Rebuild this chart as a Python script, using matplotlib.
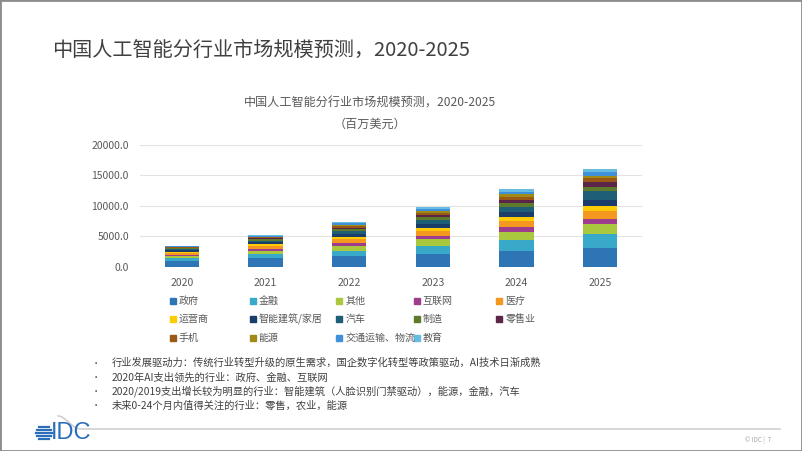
import matplotlib
matplotlib.use('Agg')
import matplotlib.pyplot as plt
import numpy as np
from matplotlib.patches import Rectangle
from matplotlib.lines import Line2D

plt.rcParams['font.family'] = ['Noto Sans CJK SC', 'DejaVu Sans']

# ---------------------------------------------------------------------------
# data (百万美元)
# ---------------------------------------------------------------------------
years = ['2020', '2021', '2022', '2023', '2024', '2025']

gov = [930, 1370, 1760, 2090, 2640, 3130]
finance = [440, 660, 880, 1370, 1760, 2200]
other = [380, 550, 770, 1040, 1370, 1700]
internet = [220, 330, 490, 600, 710, 880]
medical = [330, 490, 600, 770, 1100, 1320]
telecom = [170, 270, 380, 550, 660, 770]
building = [220, 330, 490, 600, 820, 1040]
auto = [220, 270, 440, 660, 820, 1320]
manufacturing = [110, 220, 330, 440, 660, 710]
retail = [110, 170, 270, 380, 440, 770]
phone = [110, 170, 270, 380, 550, 660]
energy = [60, 110, 220, 330, 440, 440]
transport = [60, 110, 220, 270, 380, 550]
education = [90, 110, 170, 330, 380, 500]

names = ['政府', '金融', '其他', '互联网', '医疗',
         '运营商', '智能建筑/家居', '汽车', '制造', '零售业',
         '手机', '能源', '交通运输、物流', '教育']
series = [gov, finance, other, internet, medical,
          telecom, building, auto, manufacturing, retail,
          phone, energy, transport, education]
colors = ['#2E75B6', '#38A9C9', '#A9C83E', '#9E3D8E', '#F4981F',
          '#FFCB05', '#1B3D6A', '#1F5E77', '#5E7B2B', '#5C2547',
          '#9A5A16', '#A28A16', '#3F92DA', '#67BCE2']

bullets = [
    '行业发展驱动力：传统行业转型升级的原生需求，国企数字化转型等政策驱动，AI技术日渐成熟',
    '2020年AI支出领先的行业：政府、金融、互联网',
    '2020/2019支出增长较为明显的行业：智能建筑（人脸识别门禁驱动），能源，金融，汽车',
    '未来0-24个月内值得关注的行业：零售，农业，能源',
]

W, H = 802, 451
fig = plt.figure(figsize=(W / 100, H / 100), dpi=100)
fig.patch.set_facecolor('white')


def fx(px):
    return px / W


def fy(py):
    return 1 - py / H


# slide frame
fig.patches.append(Rectangle((0, 0), 1, 1, transform=fig.transFigure,
                             fill=False, edgecolor='#8C8C8C', linewidth=2))

# slide title
fig.text(fx(52), fy(50), '中国人工智能分行业市场规模预测，2020-2025',
         fontsize=14.5, color='#404040', va='center', ha='left')

# ---------------------------------------------------------------------------
# chart
# ---------------------------------------------------------------------------
ax = fig.add_axes([fx(140), fy(266.7), fx(642) - fx(140), fy(145) - fy(266.7)])
x = np.arange(len(years))
bottom = np.zeros(len(years))
for vals, col in zip(series, colors):
    ax.bar(x, vals, width=0.41, bottom=bottom, color=col, zorder=3)
    bottom += np.array(vals)

ax.set_xlim(-0.5, len(years) - 0.5)
ax.set_ylim(0, 20000)
ax.set_yticks([0, 5000, 10000, 15000, 20000])
ax.set_yticklabels(['%.1f' % v for v in [0, 5000, 10000, 15000, 20000]])
ax.set_xticks(x)
ax.set_xticklabels(years)
ax.tick_params(length=0, labelsize=7.5, labelcolor='#595959')
ax.tick_params(axis='y', pad=8)
ax.tick_params(axis='x', pad=8)
ax.grid(axis='y', color='#E3E3E3', linewidth=0.8, zorder=0)
for s in ax.spines.values():
    s.set_visible(False)

fig.text(fx(370), fy(103), '中国人工智能分行业市场规模预测，2020-2025',
         fontsize=8.7, color='#595959', ha='center', va='center')
fig.text(fx(370), fy(124), '（百万美元）',
         fontsize=8.7, color='#595959', ha='center', va='center')

# legend, 5 per row
col_x = [172.7, 252.7, 339.3, 416.7, 499.3]
row_y = [301, 319.3, 337.7]
for i, (name, col) in enumerate(zip(names, colors)):
    cx = col_x[i % 5]
    cy = row_y[i // 5]
    fig.patches.append(Rectangle((fx(cx - 3), fy(cy + 3)), fx(6), 6 / H,
                                 transform=fig.transFigure, color=col))
    fig.text(fx(cx + 6), fy(cy), name, fontsize=7.2, color='#595959',
             ha='left', va='center')

# ---------------------------------------------------------------------------
# notes
# ---------------------------------------------------------------------------
for i, line in enumerate(bullets):
    yy = 363 + i * 14.3
    fig.text(fx(92), fy(yy), '•', fontsize=6, color='#404040', ha='left', va='center')
    fig.text(fx(112), fy(yy), line, fontsize=7.4, color='#404040', ha='left', va='center')

# footer line with a curve on the left
t = np.linspace(0, 1, 30)
curve_x = 58 + 22 * t
curve_y = 416 + 13 * (3 * t ** 2 - 2 * t ** 3)
lx = np.concatenate([curve_x, [780]])
ly = np.concatenate([curve_y, [429]])
fig.lines.append(Line2D(fx(lx), fy(ly), transform=fig.transFigure,
                        color='#D0D0D0', linewidth=1.2))

# IDC logo: striped globe + letters
logo_col = '#2A6EBB'
gcx, gcy, gr = 44, 433, 8
for dy in [-6, -3, 0, 3, 6]:
    half = np.sqrt(max(gr ** 2 - dy ** 2, 0))
    fig.lines.append(Line2D([fx(gcx - half), fx(gcx + half)], [fy(gcy + dy), fy(gcy + dy)],
                            transform=fig.transFigure, color=logo_col, linewidth=1.6))
fig.text(fx(51), fy(433), 'IDC', fontsize=17, color=logo_col, ha='left', va='center',
         family='Liberation Sans')

fig.text(fx(745), fy(440), '© IDC |  7', fontsize=4.5, color='#A6A6A6', ha='left', va='center')

fig.savefig('out.png', dpi=100)
